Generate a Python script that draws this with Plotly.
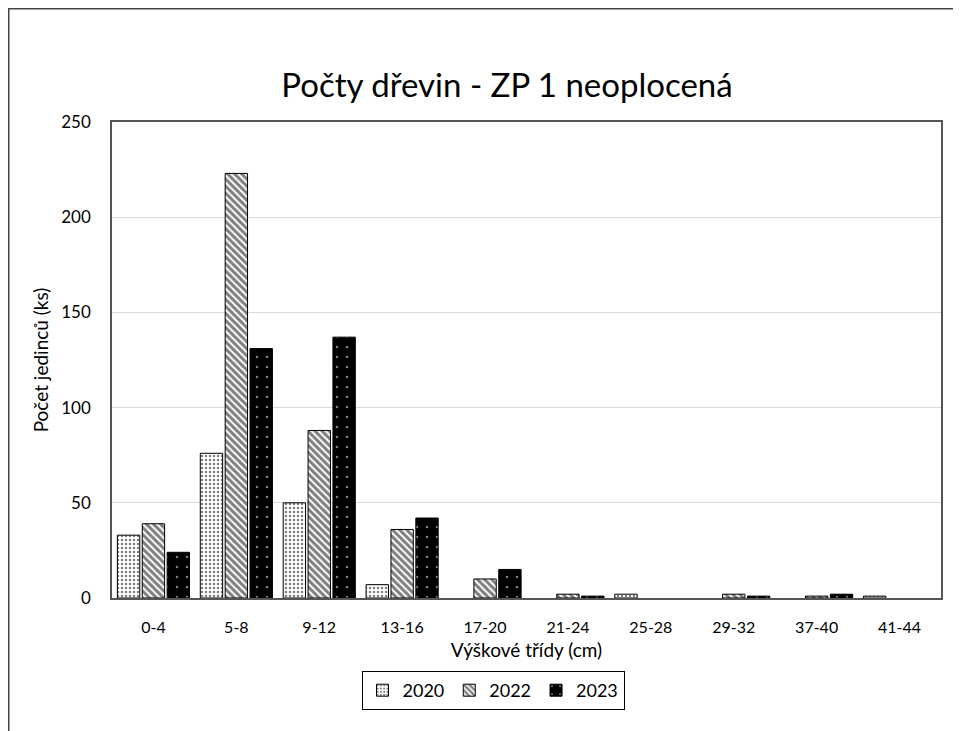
import plotly.graph_objects as go

categories = ["0-4", "5-8", "9-12", "13-16", "17-20", "21-24", "25-28", "29-32", "37-40", "41-44"]
v2020 = [33, 76, 50, 7, 0, 0, 2, 0, 0, 1]
v2022 = [39, 223, 88, 36, 10, 2, 0, 2, 1, 0]
v2023 = [24, 131, 137, 42, 15, 1, 0, 1, 2, 0]
y_ticks = [0, 50, 100, 150, 200, 250]

FONT = "Lato, 'Open Sans', sans-serif"


def lw(vals):
    return [1 if v else 0 for v in vals]


fig = go.Figure()
fig.add_trace(go.Bar(
    name="2020", x=categories, y=v2020,
    marker=dict(color="white", line=dict(color="black", width=lw(v2020)),
                pattern=dict(shape=".", bgcolor="white", fgcolor="black", size=4, solidity=0.3)),
))
fig.add_trace(go.Bar(
    name="2022", x=categories, y=v2022,
    marker=dict(color="white", line=dict(color="black", width=lw(v2022)),
                pattern=dict(shape="\\", bgcolor="white", fgcolor="black", size=5, solidity=0.6)),
))
fig.add_trace(go.Bar(
    name="2023", x=categories, y=v2023,
    marker=dict(color="black", line=dict(color="black", width=lw(v2023)),
                pattern=dict(shape=".", bgcolor="black", fgcolor="white", size=10, solidity=0.05)),
))

# page body has an 8px margin; figure coordinates = screen - 8
OFF = 8
L, R, T, B = 112 - OFF, 941 - OFF, 122 - OFF, 598 - OFF
W, H = 961 - OFF, 731 - OFF
pw, ph = R - L, B - T

fig.update_layout(
    width=W, height=H,
    margin=dict(l=L, r=W - R, t=T, b=H - B),
    paper_bgcolor="white", plot_bgcolor="white",
    font=dict(family=FONT, color="#000000", size=16),
    barmode="group", bargap=0.1, bargroupgap=0.1,
    title=dict(text="Počty dřevin - ZP 1 neoplocená", x=(507 - OFF) / W, xanchor="center",
               y=1 - (85 - OFF) / H, yanchor="middle", font=dict(size=33, family=FONT, color="#000")),
    legend=dict(orientation="h", x=(493 - OFF - L) / pw, xanchor="center",
                y=(B - (671 - OFF)) / ph, yanchor="top",
                bordercolor="black", borderwidth=1, font=dict(size=18, family=FONT),
                itemwidth=30, traceorder="normal"),
    shapes=[dict(type="rect", xref="paper", yref="paper",
                 x0=(0.75 - L) / pw, x1=1.2, y0=-0.5, y1=(B - 0.75) / ph,
                 line=dict(color="#444444", width=1.5), fillcolor="rgba(0,0,0,0)", layer="below")],
)
fig.update_xaxes(
    title=dict(text="Výškové třídy (cm)", font=dict(size=19, family=FONT), standoff=9),
    showline=True, linecolor="#555555", linewidth=1.5, mirror=True,
    ticks="outside", ticklen=14, tickcolor="rgba(0,0,0,0)", tickfont=dict(size=16, family=FONT),
)
fig.update_yaxes(
    title=dict(text="Počet jedinců (ks)", font=dict(size=19, family=FONT), standoff=8),
    range=[0, 250], tickvals=y_ticks,
    showline=True, linecolor="#555555", linewidth=1.5, mirror=True,
    showgrid=True, gridcolor="#d9d9d9", gridwidth=1,
    ticks="outside", ticklen=16, tickcolor="rgba(0,0,0,0)", tickfont=dict(size=17, family=FONT),
    zeroline=False,
)

fig.write_html("out.html")
